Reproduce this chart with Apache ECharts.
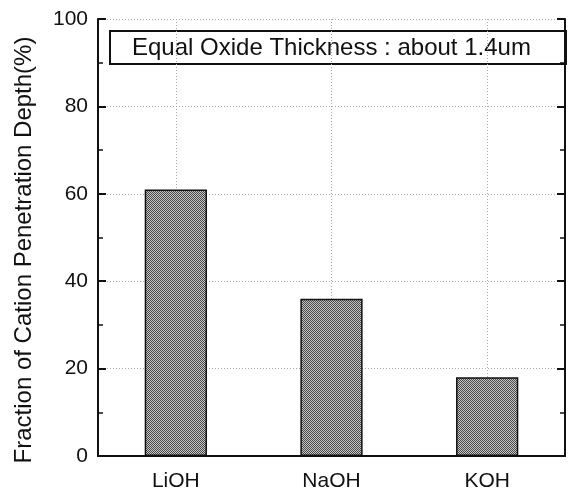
<!DOCTYPE html>
<html><head><meta charset="utf-8">
<script src="https://cdn.jsdelivr.net/npm/echarts@6/dist/echarts.min.js"></script>
<style>html,body{margin:0;padding:0;background:#fff}#c{width:571px;height:496px}</style>
</head><body><div id="c"></div>
<script>
const categories = ['LiOH', 'NaOH', 'KOH'];
const fractionValues = [61, 36, 18];
const yTicks = [0, 20, 40, 60, 80, 100];
const noteText = 'Equal Oxide Thickness : about 1.4um';
const yTitle = 'Fraction of Cation Penetration Depth(%)';

const pc = document.createElement('canvas');
pc.width = 2; pc.height = 2;
const g = pc.getContext('2d');
g.fillStyle = '#c4c4c4'; g.fillRect(0,0,2,2);
g.fillStyle = '#4a4a4a'; g.fillRect(0,0,1,1); g.fillRect(1,1,1,1);

const chart = echarts.init(document.getElementById('c'), null, {renderer:'canvas'});
const font = 'Liberation Sans, Arial, sans-serif';
chart.setOption({
  animation: false,
  backgroundColor: '#fff',
  grid: {left: 98, right: 6, top: 19, bottom: 40, containLabel: false},
  xAxis: [{
    type: 'category', data: categories, position: 'bottom',
    axisLine: {lineStyle: {color: '#111', width: 2}},
    axisTick: {show: false},
    axisLabel: {fontFamily: font, fontSize: 21, color: '#111', margin: 15},
    splitLine: {show: true, alignWithLabel: true, lineStyle: {color: '#aaa', type: [1,2], width: 1}}
  }, {
    type: 'category', data: categories, position: 'top',
    axisLine: {lineStyle: {color: '#111', width: 2}},
    axisTick: {show: false}, axisLabel: {show: false}
  }],
  yAxis: [{
    type: 'value', min: 0, max: 100, interval: 20,
    axisLine: {show: true, lineStyle: {color: '#111', width: 2}},
    axisTick: {show: true, inside: true, length: 8, lineStyle: {color: '#111', width: 2}},
    minorTick: {show: true, splitNumber: 2, length: 5, lineStyle: {color: '#111', width: 1.5}},
    axisLabel: {fontFamily: font, fontSize: 21, color: '#111', margin: 10,
      formatter: v => yTicks.includes(v) ? String(v) : ''},
    splitLine: {show: true, lineStyle: {color: '#aaa', type: [1,2], width: 1}}
  }, {
    type: 'value', min: 0, max: 100, interval: 20, position: 'right',
    axisLine: {show: true, lineStyle: {color: '#111', width: 2}},
    axisTick: {show: true, inside: true, length: 8, lineStyle: {color: '#111', width: 2}},
    minorTick: {show: true, splitNumber: 2, length: 5, lineStyle: {color: '#111', width: 1.5}},
    axisLabel: {show: false}, splitLine: {show: false}
  }],
  series: [{
    type: 'bar', data: fractionValues, barWidth: '40%',
    itemStyle: {color: {image: pc, repeat: 'repeat'}, borderColor: '#111', borderWidth: 1.5}
  }],
  graphic: [{
    type: 'text', x: 24, y: 250, rotation: Math.PI / 2,
    style: {text: yTitle, font: '24px ' + font, fill: '#111', align: 'center', verticalAlign: 'middle'}
  }, {
    type: 'group', left: 109, top: 30, z: 100,
    children: [{
      type: 'rect', shape: {x: 0, y: 0, width: 456, height: 33},
      style: {fill: '#fff', stroke: '#111', lineWidth: 2}
    }, {
      type: 'text', x: 22, y: 17,
      style: {text: noteText, font: '24px ' + font, fill: '#111', verticalAlign: 'middle'}
    }]
  }]
});
</script></body></html>
